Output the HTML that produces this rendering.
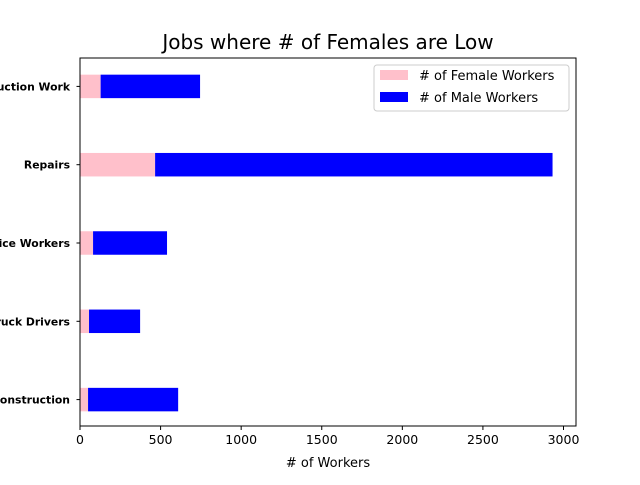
<!DOCTYPE html>
<html><head><meta charset="utf-8"><style>
body{margin:0;background:#fff;}
svg{font-family:"DejaVu Sans","Liberation Sans",sans-serif;}
</style></head><body>
<svg id="c" width="640" height="480" viewBox="0 0 640 480">
<text x="328" y="49" text-anchor="middle" font-size="20">Jobs where # of Females are Low</text>
<g id="plot"></g>
<rect x="80" y="58" width="496" height="368" fill="none" stroke="#000" stroke-width="1"/>
<text x="328" y="467" text-anchor="middle" font-size="13"># of Workers</text>
<g>
<rect x="374" y="65" width="195" height="46" fill="#fff" stroke="#ccc" rx="3"/>
<rect x="380" y="70" width="28" height="10" fill="pink"/>
<text x="419" y="80" font-size="13"># of Female Workers</text>
<rect x="380" y="92" width="28" height="10" fill="blue"/>
<text x="419" y="102" font-size="13"># of Male Workers</text>
</g>
</svg>
<script>
const categories=["Construction","Truck Drivers","Service Workers","Repairs","Construction Work"];
const femaleValues=[50,56,81,466,128];
const maleValues=[559,317,459,2466,617];
const xTicks=[0,500,1000,1500,2000,2500,3000];
const NS="http://www.w3.org/2000/svg";
const g=document.getElementById('plot');
const X=v=>80+v*(483.5/3000);
const Y=i=>427-(i+0.35)*(368/4.7);
const bh=0.3*368/4.7;
function el(t,a){const e=document.createElementNS(NS,t);for(const k in a)e.setAttribute(k,a[k]);g.appendChild(e);return e;}
categories.forEach((c,i)=>{
  const y=Y(i);
  const f=el('rect',{x:X(0),y:y-bh/2,width:X(femaleValues[i])-X(0),height:bh,fill:'pink'});
  
  
  const m=el('rect',{x:X(femaleValues[i]),y:y-bh/2,width:X(femaleValues[i]+maleValues[i])-X(femaleValues[i]),height:bh,fill:'blue'});
  
  
  el('line',{x1:76.5,x2:80,y1:y,y2:y,stroke:'#000'});
  const t=el('text',{x:70,y:y+4,'text-anchor':'end','font-size':'10.8','font-weight':'bold'});
  t.textContent=c;
  
  
});
xTicks.forEach(v=>{
  el('line',{x1:X(v),x2:X(v),y1:426,y2:430,stroke:'#000'});
  const t=el('text',{x:X(v),y:444,'text-anchor':'middle','font-size':'12.5'});
  t.textContent=v;
  
  
});
</script>
</body></html>
